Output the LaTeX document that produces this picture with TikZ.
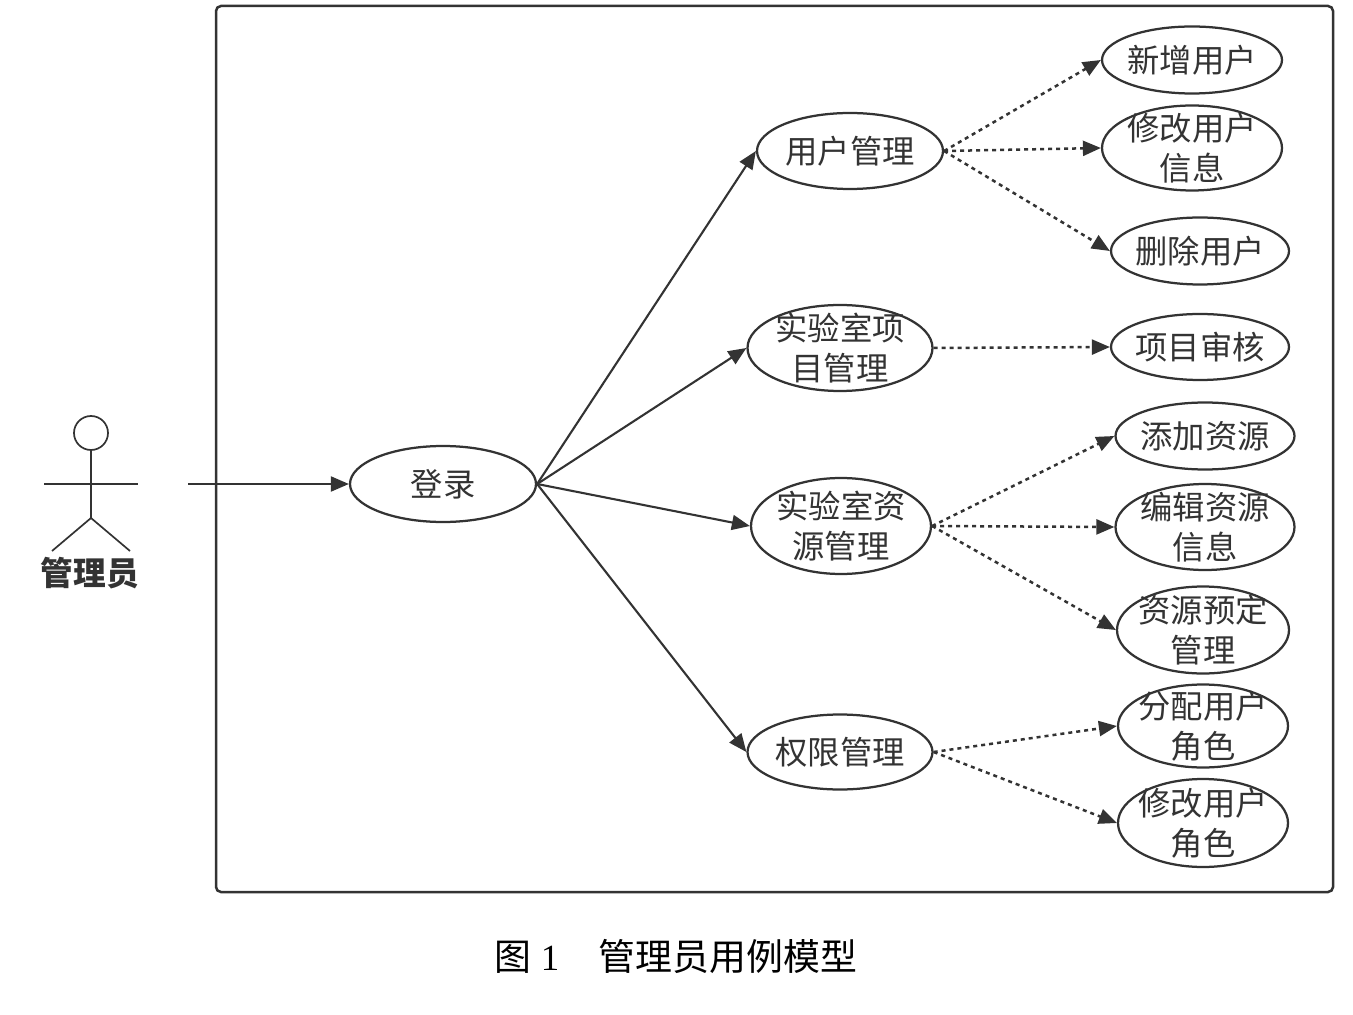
\documentclass[tikz,border=0pt]{standalone}
\usepackage{fontspec}
\setmainfont{Noto Sans CJK SC}
\newfontfamily\digitfont{Liberation Serif}
\definecolor{lineDark}{HTML}{333333}
\usetikzlibrary{
	arrows.meta,
	shapes.geometric
}
\tikzset{
	usecase/.style n args={3}{
		ellipse,
		draw=lineDark,
		line width=0.45mm,
		fill=white,
		inner sep=0pt,
		minimum width=#1*0.2mm,
		minimum height=#2*0.2mm,
		label={[uclabel]center:{#3}}
	},
	uclabel/.style={
		align=center,
		text=lineDark,
		inner sep=0pt,
		font=\fontsize{18.4pt}{22.7pt}\selectfont
	},
	solidarrow/.style={
		-{Triangle[length=3.6mm,width=3mm]},
		line width=0.42mm,
		lineDark
	},
	dottedarrow/.style={
		-{Triangle[length=3.6mm,width=3mm]},
		line width=0.5mm,
		dash pattern=on 0.8mm off 0.8mm,
		lineDark
	},
	frameline/.style={
		draw=lineDark,
		line width=0.5mm,
		rounded corners=1mm
	},
	actorline/.style={
		draw=lineDark,
		line width=0.34mm
	}
}
\begin{document}
\begin{tikzpicture}[x=0.2mm,y=-0.2mm]
	\useasboundingbox (0,0) rectangle (1353,1015);
	\draw[frameline] (216,6) rectangle (1333,892);

	% actor
	\node[circle, actorline, inner sep=0pt, minimum width=6.2mm, minimum height=6.8mm] (head) at (91,433) {};
	\coordinate (hip) at (91,518);
	\draw[actorline] (head.south) -- (hip);
	\draw[actorline] (44,484) -- (138,484);
	\draw[actorline] (52,551) -- (hip) -- (130,551);
	\node[font=\fontsize{18.6pt}{22pt}\selectfont\bfseries, text=lineDark, inner sep=0pt] (actor) at (90,573) {管理员};
	\coordinate (actorout) at (188,484);

	% use cases
	\node[usecase={186}{76}{登录}] (login) at (443,484) {};
	\node[usecase={186}{76}{用户管理}] (user) at (850,151) {};
	\node[usecase={185}{86}{实验室项\\目管理}] (project) at (840,348) {};
	\node[usecase={180}{96}{实验室资\\源管理}] (resource) at (841,526) {};
	\node[usecase={185}{75}{权限管理}] (role) at (840,752) {};

	\node[usecase={180}{67}{新增用户}] (adduser) at (1192,60) {};
	\node[usecase={180}{85}{修改用户\\信息}] (edituser) at (1192,148) {};
	\node[usecase={178}{67}{删除用户}] (deluser) at (1200,251) {};
	\node[usecase={178}{66}{项目审核}] (audit) at (1200,347) {};
	\node[usecase={179}{67}{添加资源}] (addres) at (1205,436) {};
	\node[usecase={179}{86}{编辑资源\\信息}] (editres) at (1205,527) {};
	\node[usecase={172}{87}{资源预定\\管理}] (booking) at (1203,630) {};
	\node[usecase={170}{83}{分配用户\\角色}] (assign) at (1203,726) {};
	\node[usecase={170}{88}{修改用户\\角色}] (editrole) at (1203,823) {};

	\draw[solidarrow] (actorout) -- (login.west);
	\foreach \dst in {user,project,resource,role}{
		\draw[solidarrow] (login.east) -- (\dst.west);
	}
	\foreach \src/\dst in {user/adduser,user/edituser,user/deluser,project/audit,resource/addres,resource/editres,resource/booking,role/assign,role/editrole}{
		\draw[dottedarrow] (\src.east) -- (\dst.west);
	}

	\node[font=\fontsize{21pt}{25pt}\selectfont, inner sep=0pt] (caption) at (676,956) {图\hspace{1.8mm}{\digitfont 1}\hspace{7.9mm}管理员用例模型};
\end{tikzpicture}
\end{document}
